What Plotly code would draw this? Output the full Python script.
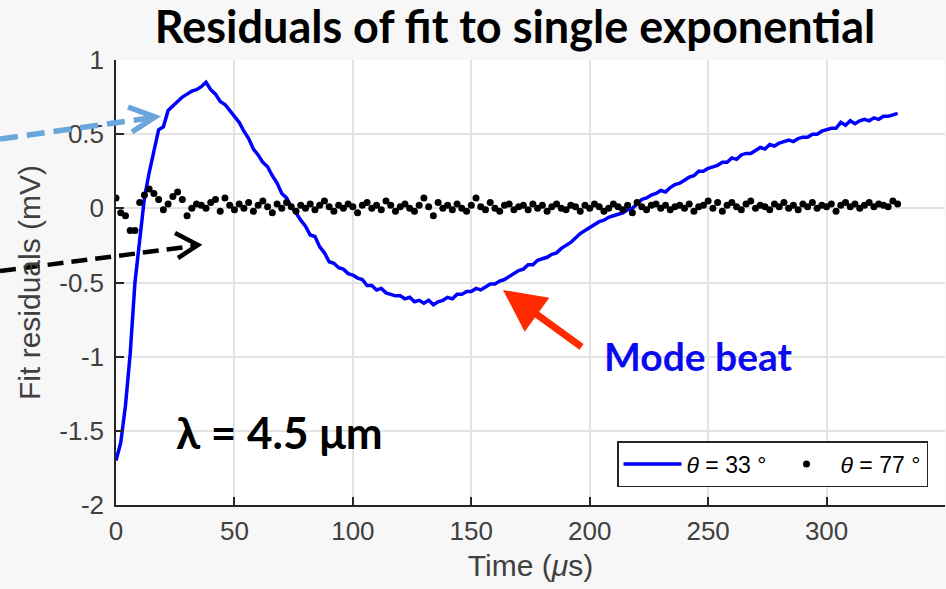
import plotly.graph_objects as go

# ---------------- data ----------------
t_blue = list(range(0, 331, 2))
res_33 = [
    -1.70, -1.58, -1.33, -0.98, -0.50, -0.20, 0.07, 0.24, 0.39, 0.53,
    0.55, 0.66, 0.69, 0.72, 0.75, 0.77, 0.79, 0.80, 0.82, 0.85,
    0.80, 0.77, 0.72, 0.70, 0.66, 0.62, 0.58, 0.52, 0.47, 0.40,
    0.36, 0.31, 0.28, 0.22, 0.17, 0.10, 0.07, 0.01, -0.03, -0.08,
    -0.12, -0.18, -0.19, -0.26, -0.30, -0.36, -0.37, -0.40, -0.41, -0.44,
    -0.45, -0.47, -0.48, -0.52, -0.52, -0.55, -0.54, -0.57, -0.58, -0.59,
    -0.59, -0.61, -0.60, -0.63, -0.62, -0.64, -0.62, -0.65, -0.63, -0.62,
    -0.60, -0.61, -0.58, -0.58, -0.56, -0.56, -0.54, -0.55, -0.53, -0.51,
    -0.51, -0.49, -0.48, -0.46, -0.44, -0.42, -0.41, -0.38, -0.38, -0.35,
    -0.34, -0.33, -0.31, -0.30, -0.27, -0.25, -0.23, -0.20, -0.17, -0.15,
    -0.13, -0.11, -0.09, -0.08, -0.06, -0.05, -0.04, -0.03, -0.01, 0.00,
    0.03, 0.06, 0.07, 0.09, 0.10, 0.12, 0.11, 0.14, 0.16, 0.17,
    0.19, 0.21, 0.22, 0.25, 0.25, 0.27, 0.28, 0.29, 0.31, 0.31,
    0.34, 0.33, 0.36, 0.37, 0.37, 0.39, 0.41, 0.40, 0.43, 0.42,
    0.44, 0.45, 0.46, 0.45, 0.47, 0.48, 0.48, 0.50, 0.50, 0.52,
    0.53, 0.54, 0.54, 0.58, 0.56, 0.59, 0.57, 0.59, 0.60, 0.59,
    0.61, 0.60, 0.62, 0.62, 0.63, 0.64,
]

t_black = list(range(0, 331, 2))
res_77 = [
    0.07, -0.03, -0.05, -0.15, -0.15, 0.04, 0.09, 0.13, 0.10, 0.06,
    -0.01, 0.03, 0.08, 0.11, 0.06, -0.05, 0.00, 0.03, 0.02, 0.00,
    0.04, 0.06, -0.02, 0.07, 0.02, -0.01, 0.03, 0.00, 0.04, -0.02,
    0.02, 0.05, 0.01, -0.03, 0.03, 0.00, 0.04, 0.01, -0.02, 0.02,
    0.00, 0.03, -0.01, 0.02, 0.05, 0.01, -0.02, 0.02, 0.00, 0.03,
    0.01, -0.03, 0.02, 0.04, 0.00, 0.02, -0.01, 0.05, 0.02, -0.02,
    0.01, 0.03, 0.00, -0.02, 0.02, 0.07, 0.01, -0.05, 0.04, 0.00,
    0.02, -0.01, 0.03, 0.00, -0.02, 0.02, 0.07, 0.01, -0.01, 0.04,
    0.00, -0.02, 0.02, 0.03, -0.01, 0.01, 0.02, -0.01, 0.03, 0.00,
    0.02, -0.02, 0.01, 0.03, 0.00, -0.01, 0.02, 0.01, -0.02, 0.02,
    0.00, 0.03, 0.01, -0.02, 0.00, 0.03, 0.01, -0.01, 0.02, -0.03,
    0.04, 0.01, -0.01, 0.02, 0.03, 0.00, 0.02, -0.01, 0.01, 0.02,
    0.00, 0.03, -0.02, 0.01, 0.02, 0.05, 0.00, 0.04, -0.02, 0.02,
    0.04, 0.01, -0.01, 0.03, 0.05, 0.00, 0.02, 0.01, -0.01, 0.03,
    0.01, 0.04, 0.00, 0.02, -0.01, 0.03, 0.01, 0.04, 0.00, 0.02,
    0.01, 0.03, -0.02, 0.02, 0.04, 0.01, 0.03, 0.00, 0.02, 0.04,
    0.01, 0.03, 0.02, 0.01, 0.05, 0.03,
]

x_ticks = [0, 50, 100, 150, 200, 250, 300, 350]
y_ticks = [-2, -1.5, -1, -0.5, 0, 0.5, 1]
y_ticktext = ["-2", "-1.5", "-1", "-0.5", "0", "0.5", "1"]

# ---------------- figure ----------------
W, H = 946, 589
L, R, T, B = 116, 1, 60, 84
pw, ph = W - L - R, H - T - B


def px(xp):
    return (xp - L) / pw


def py(yp):
    return (H - B - yp) / ph


AX = "#262626"
LBL = "#404040"
fig = go.Figure()
fig.add_trace(go.Scatter(
    x=t_blue, y=res_33, mode="lines", name="<i>θ</i> = 33 °",
    line=dict(color="#0000ff", width=3.5),
))
fig.add_trace(go.Scatter(
    x=t_black, y=res_77, mode="markers", name="<i>θ</i> = 77 °",
    marker=dict(color="black", size=7),
))

shapes = []
# light blue dashed arrow
shapes.append(dict(type="line", xref="paper", yref="paper",
                   x0=px(0), y0=py(139), x1=px(150), y1=py(118),
                   line=dict(color="#6aa6dc", width=5.5, dash="18px,9px")))
shapes.append(dict(type="path", xref="paper", yref="paper",
                   path=f"M {px(128)},{py(107)} L {px(155)},{py(117)} L {px(132)},{py(132)}",
                   line=dict(color="#6aa6dc", width=5.5)))
# black dashed arrow
shapes.append(dict(type="line", xref="paper", yref="paper",
                   x0=px(0), y0=py(271), x1=px(194), y1=py(246),
                   line=dict(color="black", width=4.5, dash="16px,8px")))
shapes.append(dict(type="path", xref="paper", yref="paper",
                   path=f"M {px(175)},{py(233)} L {px(198)},{py(245)} L {px(178)},{py(258)}",
                   line=dict(color="black", width=4.5)))

annotations = [
    dict(xref="paper", yref="paper", x=px(503), y=py(290), text="",
         showarrow=True, ax=80, ay=58, arrowhead=2, arrowsize=1.2,
         arrowwidth=7, arrowcolor="#ff2a00", standoff=0),
    dict(xref="paper", yref="paper", x=px(698), y=py(356), xanchor="center", yanchor="middle",
         text="<b>Mode beat</b>", showarrow=False,
         font=dict(family="Lato", size=39, color="#0a0af0")),
    dict(xref="paper", yref="paper", x=px(279), y=py(432), xanchor="center", yanchor="middle",
         text="<b>λ = 4.5 μm</b>", showarrow=False,
         font=dict(family="Lato", size=44, color="black")),
]

fig.update_layout(
    width=W, height=H,
    margin=dict(l=L, r=R, t=T, b=B, pad=0),
    paper_bgcolor="#f7f7f7", plot_bgcolor="white",
    font=dict(family="Liberation Sans", color=AX),
    title=dict(text="<b>Residuals of fit to single exponential</b>",
               xref="paper", x=px(515), xanchor="center",
               yref="container", y=1 - 27 / H, yanchor="middle",
               font=dict(family="Lato", size=45, color="black")),
    showlegend=True,
    legend=dict(orientation="h", xref="paper", yref="paper",
                x=px(928), xanchor="right", y=py(487), yanchor="bottom",
                bgcolor="white", bordercolor=AX, borderwidth=1.5,
                itemwidth=58, entrywidth=81, entrywidthmode="pixels",
                font=dict(family="Liberation Sans", size=23, color="black")),
    shapes=shapes,
    annotations=annotations,
)
fig.update_xaxes(
    range=[0, 350], tickvals=x_ticks, ticks="inside", ticklen=8, tickwidth=1.5,
    tickcolor=AX, showline=True, linecolor=AX, linewidth=1.5, mirror=False,
    showgrid=True, gridcolor="#e3e3e3", gridwidth=1.5, zeroline=False,
    tickfont=dict(size=26, color=LBL), ticklabelstandoff=2,
    title=dict(text="Time (<i>μ</i>s)", font=dict(size=30, color=LBL), standoff=10),
)
fig.update_yaxes(
    range=[-2, 1], tickvals=y_ticks, ticktext=y_ticktext, ticks="inside", ticklen=8,
    tickwidth=1.5, tickcolor=AX, showline=True, linecolor=AX, linewidth=1.5,
    mirror=False, showgrid=True, gridcolor="#e3e3e3", gridwidth=1.5, zeroline=False,
    tickfont=dict(size=26, color=LBL), ticklabelstandoff=5,
    title=dict(text="Fit residuals (mV)", font=dict(size=30, color=LBL), standoff=10),
)

fig.write_html("out.html")
